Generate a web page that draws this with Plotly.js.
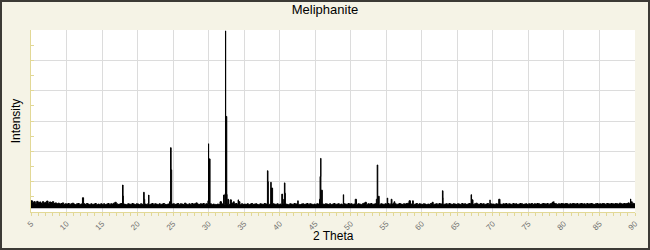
<!DOCTYPE html>
<html>
<head>
<meta charset="utf-8">
<script src="https://cdn.plot.ly/plotly-3.0.1.min.js"></script>
<style>
  html, body { margin: 0; padding: 0; background: #ffffff; }
  #frame { width: 650px; height: 250px; box-sizing: border-box; border: 2px solid #3c3a36; background: #f5f3e6; }
  #chart { width: 646px; height: 246px; }
</style>
</head>
<body>
<div id="frame"><div id="chart"></div></div>
<script>
// ---- data ----
const chartTitle = "Meliphanite";
const xTitle = "2 Theta";
const yTitle = "Intensity";

const twoThetaStart = 5.0;
const twoThetaStep = 0.2;

// background noise level above the base line, every 0.2 degree from 5.0 to 90.0
const noise = [
  25,20,22,17,23,19,21,16,22,18,20,24,17,21,19,22,16,18,15,17,14,16,18,13,15,
  14,16,13,15,17,14,12,15,16,13,14,17,15,13,16,14,12,15,13,14,16,12,14,13,15,
  13,15,12,14,16,13,15,14,17,20,15,13,14,16,15,14,13,12,15,14,13,16,14,12,15,
  14,12,15,13,16,14,13,15,12,14,16,13,15,14,12,15,13,14,16,13,12,14,15,13,14,
  15,13,14,16,12,15,14,13,17,14,12,15,13,16,14,15,18,14,13,15,14,16,13,15,14,
  13,15,12,14,13,12,14,13,15,14,16,13,12,14,13,15,18,14,15,16,13,14,12,15,13,
  14,13,15,12,14,16,13,14,15,13,12,15,14,13,16,14,15,13,14,12,15,14,13,15,12,
  14,13,15,16,14,13,12,15,14,13,16,14,15,13,12,14,15,13,14,16,13,15,14,12,14,
  13,15,14,12,16,14,13,15,14,13,15,12,14,16,13,14,15,13,14,12,15,14,13,16,14,
  15,13,14,16,13,15,14,12,15,17,14,13,15,14,16,13,14,15,13,14,12,15,14,13,15,
  14,16,13,15,14,17,15,13,14,16,14,13,15,14,16,17,19,14,15,13,14,16,13,15,14,
  13,15,14,12,14,13,16,15,13,14,15,13,16,14,15,13,14,15,13,16,14,13,15,14,13,
  15,14,13,16,14,15,13,14,16,15,14,13,15,17,14,13,16,14,15,13,14,16,13,15,14,
  14,13,15,14,16,14,13,15,14,16,13,15,14,13,16,14,15,13,14,16,15,13,14,15,13,
  15,14,16,13,15,14,16,15,13,14,16,15,14,16,13,15,17,14,16,15,13,15,14,16,15,
  14,16,15,13,15,14,16,15,14,16,13,15,16,14,15,13,16,14,15,16,14,13,15,16,14,
  15,14,16,15,13,16,15,14,16,15,14,16,15,14,17,15,14,16,15,16,18,15,16,17,15,
  16
];

// diffraction peaks: position (2 theta) and intensity above the base line
const peakPos = [
  12.24, 16.9, 17.88, 17.96, 20.85, 20.93, 21.55,
  24.5, 24.64, 24.72, 29.9, 29.98, 30.06, 31.6,
  32.1, 32.3, 32.37, 32.45, 32.55, 32.7, 33.03, 33.5, 34.15, 34.25,
  38.27, 38.35, 38.74, 38.82, 40.29, 40.58, 40.66, 40.74, 42.54,
  45.6, 45.68, 45.77, 45.85, 48.95, 50.63, 52.0,
  53.6, 53.72, 53.8, 53.9, 55.13, 55.69, 56.1, 58.2, 58.7,
  61.45, 62.9, 62.98, 66.93, 67.0, 69.6, 70.82, 78.4, 78.6, 89.37, 89.5
];
const peakInt = [
  35, 20, 77, 41, 53, 30, 44,
  22, 200, 127, 25, 213, 163, 22,
  44, 48, 585, 303, 46, 30, 28, 22, 28, 22,
  124, 88, 86, 67, 47, 30, 84, 50, 25,
  30, 105, 165, 60, 45, 30, 20,
  30, 143, 88, 40, 34, 30, 22, 25, 25,
  20, 58, 35, 45, 28, 28, 30, 21, 22, 31, 22
];

const xTickVals = [5,10,15,20,25,30,35,40,45,50,55,60,65,70,75,80,85,90];
const xTickText = ["5","10","15","20","25","30","35","40","45","50","55","60","65","70","75","80","85","90"];

// ---- build the pattern from the arrays ----
const pts = noise.map((v, i) => [twoThetaStart + i * twoThetaStep, v]);
peakPos.forEach((p, i) => pts.push([p, peakInt[i]]));
pts.sort((a, b) => a[0] - b[0]);
const xs = pts.map(p => p[0]);
const ys = pts.map(p => p[1]);

const axisYellow = "#e2d896";
const gridGray = "#dcdcdc";

const trace = {
  x: xs, y: ys, type: "scatter", mode: "lines",
  line: { color: "#000000", width: 1, shape: "hv" },
  fill: "tozeroy", fillcolor: "#000000",
  hoverinfo: "skip", showlegend: false
};

const layout = {
  width: 646, height: 246,
  margin: { l: 29, r: 13, t: 28, b: 36, pad: 0 },
  paper_bgcolor: "#f5f3e6",
  plot_bgcolor: "#ffffff",
  font: { family: "Liberation Sans, Arial, sans-serif", color: "#000000" },
  title: {
    text: chartTitle,
    font: { size: 13, color: "#000000", family: "Liberation Sans, Arial, sans-serif" },
    x: 0.5, xref: "container", xanchor: "center",
    y: 0.97, yref: "container", yanchor: "middle"
  },
  xaxis: {
    range: [5, 90],
    tickmode: "array", tickvals: xTickVals, ticktext: xTickText,
    tickangle: -45,
    tickfont: { size: 8, color: "#707070" },
    ticks: "outside", ticklen: 3, tickwidth: 1, tickcolor: axisYellow,
    minor: { dtick: 1, tick0: 5, ticks: "outside", ticklen: 3, tickwidth: 1, tickcolor: axisYellow, showgrid: false },
    showgrid: true, gridcolor: gridGray, gridwidth: 1,
    showline: true, linecolor: axisYellow, linewidth: 1,
    zeroline: false, fixedrange: true
  },
  yaxis: {
    range: [-12, 588],
    tick0: -12, dtick: 100,
    showticklabels: false,
    ticks: "inside", ticklen: 3, tickwidth: 1, tickcolor: axisYellow,
    minor: { dtick: 50, tick0: -12, ticks: "inside", ticklen: 3, tickwidth: 1, tickcolor: axisYellow, showgrid: false },
    showgrid: true, gridcolor: gridGray, gridwidth: 1,
    showline: true, linecolor: axisYellow, linewidth: 1,
    zeroline: false, fixedrange: true,
    title: { text: yTitle, font: { size: 12, color: "#000000" }, standoff: 6 }
  },
  annotations: [{
    text: xTitle, showarrow: false,
    xref: "paper", yref: "paper", x: 0.5, y: -0.13,
    xanchor: "center", yanchor: "middle",
    font: { size: 12, color: "#000000" }
  }]
};

Plotly.newPlot("chart", [trace], layout, { staticPlot: true, displayModeBar: false });
</script>
</body>
</html>
